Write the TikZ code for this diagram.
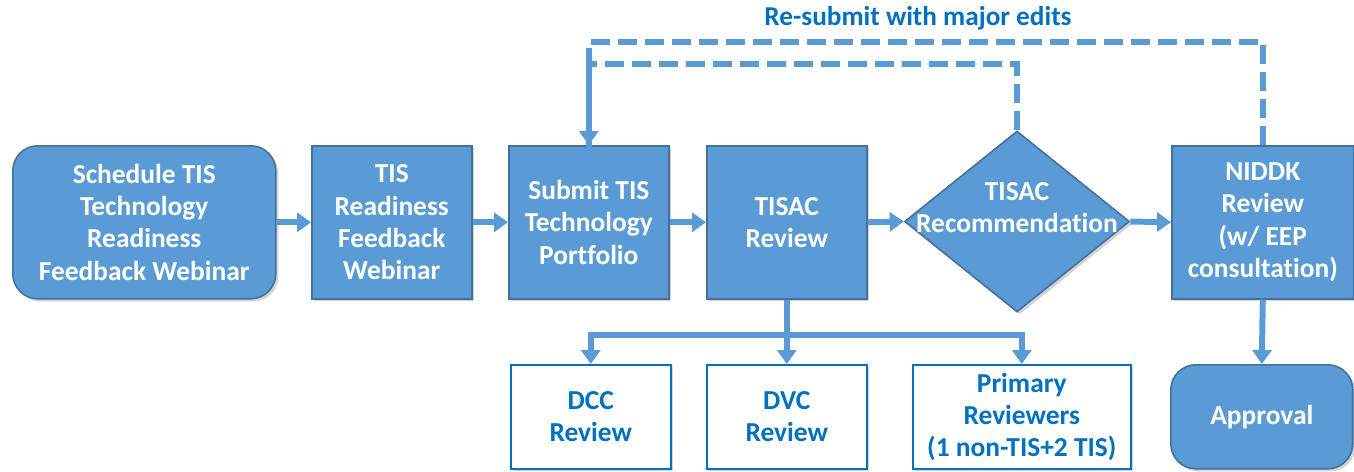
\documentclass[tikz,border=0pt]{standalone}
\usepackage{fontspec}
\setmainfont{Carlito}[Ligatures=NoCommon]
\usetikzlibrary{arrows.meta,shapes.geometric,shadows}
\definecolor{fillblue}{RGB}{91,155,213}
\definecolor{edgeblue}{RGB}{65,113,156}
\definecolor{textblue}{RGB}{0,112,192}
\tikzset{
  boxfont/.style={font=\fontsize{15.6}{18.4}\selectfont\bfseries},
  base/.style={draw=edgeblue, line width=0.9pt, align=center, inner sep=2pt, boxfont,
    drop shadow={opacity=0.35, shadow xshift=1.5pt, shadow yshift=-1.5pt}},
  bluebox/.style={base, fill=fillblue, text=white},
  roundbox/.style={bluebox, rounded corners=0.5cm},
  whitebox/.style={base, fill=white, draw=textblue, text=textblue},
  decision/.style={bluebox, diamond, inner sep=0pt},
  plaintext/.style={align=center, text=white, inner sep=0pt, boxfont},
  arr/.style={draw=fillblue, line width=3.4pt, -{Triangle[width=0.38cm,length=0.28cm]}},
  dashline/.style={draw=fillblue, line width=3.4pt, dash pattern=on 0.38cm off 0.16cm},
  lbl/.style={text=textblue, font=\fontsize{15.5}{18}\selectfont\bfseries}
}
\begin{document}
\begin{tikzpicture}[x=0.02cm,y=-0.02cm]
\useasboundingbox (0,0) rectangle (1354,471);
\node[roundbox, anchor=north west, minimum width=5.26cm, minimum height=3.06cm] (sched) at (12,145)
  {Schedule TIS\\Technology\\Readiness\\Feedback Webinar};
\node[bluebox, anchor=north west, minimum width=3.2cm, minimum height=3.06cm] (ready) at (311,145)
  {TIS\\Readiness\\Feedback\\Webinar};
\node[bluebox, anchor=north west, minimum width=3.2cm, minimum height=3.06cm] (submit) at (508,145)
  {Submit TIS\\Technology\\Portfolio};
\node[bluebox, anchor=north west, minimum width=3.2cm, minimum height=3.06cm] (tisac) at (706,145)
  {TISAC\\Review};
\node[decision, minimum width=4.5cm, minimum height=3.62cm] (rec) at (1017,221.5) {};
\node[plaintext] (rectext) at (1017,207.5) {TISAC\\Recommendation};
\node[bluebox, anchor=north west, minimum width=3.64cm, minimum height=3.06cm] (niddk) at (1171,145)
  {NIDDK\\Review\\(w/ EEP\\consultation)};
\node[roundbox, anchor=north west, minimum width=3.64cm, minimum height=2.08cm] (appr) at (1170,364)
  {Approval};
\node[whitebox, anchor=north west, minimum width=3.2cm, minimum height=2.08cm] (dcc) at (510,364)
  {DCC\\Review};
\node[whitebox, anchor=north west, minimum width=3.2cm, minimum height=2.08cm] (dvc) at (706,364)
  {DVC\\Review};
\node[whitebox, anchor=north west, minimum width=4.36cm, minimum height=2.08cm] (prim) at (912,364)
  {Primary\\Reviewers\\(1 non-TIS+2 TIS)};
\node[lbl] (lab) at (918,18) {Re-submit with major edits};

\draw[arr] (sched.east) -- (ready.west);
\draw[arr] (ready.east) -- (submit.west);
\draw[arr] (submit.east) -- (tisac.west);
\draw[arr] (tisac.east) -- (rec.west);
\draw[arr] (rec.east) -- (niddk.west);
\draw[arr] (niddk.south) -- (appr.north);
\draw[arr] (tisac.south) -- (dvc.north);
\draw[arr] (tisac.south) -- ++(0,35) coordinate (split) -| (dcc.north);
\draw[arr] (split) -| (prim.north);
\draw[dashline] (rec.north) -- ++(0,-66) -| ([yshift=-0.5cm]submit.north);
\draw[dashline, -{Triangle[width=0.38cm,length=0.28cm]}] (niddk.north) -- ++(0,-103) -| (submit.north);
\end{tikzpicture}
\end{document}
